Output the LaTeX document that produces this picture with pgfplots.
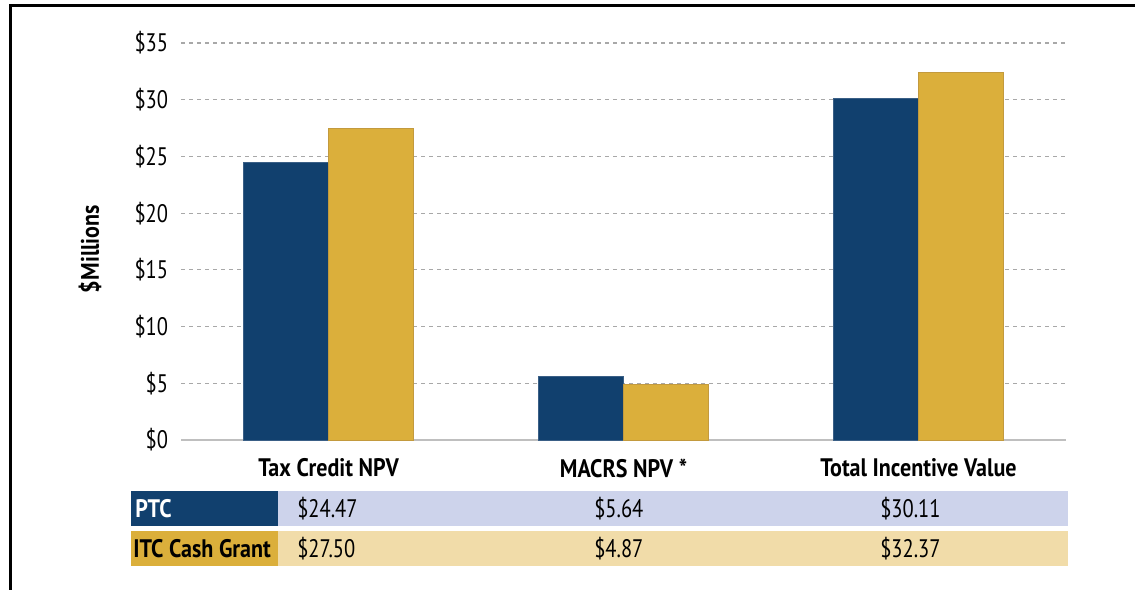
\documentclass[border=0pt]{standalone}
\usepackage{fontspec}
\setmainfont{PT Sans}[FakeStretch=0.81]
\newfontfamily\bfont{PT Sans}[FakeStretch=0.87]
\usepackage{pgfplots}
\pgfplotsset{compat=1.18}
\definecolor{navy}{HTML}{11406E}
\definecolor{navyedge}{HTML}{3A5F86}
\definecolor{gold}{HTML}{DBAF3B}
\definecolor{goldedge}{HTML}{C39A3E}
\definecolor{rowblue}{HTML}{CDD3EB}
\definecolor{rowgold}{HTML}{F1DCA9}
\definecolor{gridgray}{HTML}{A8A8A8}
\newcommand{\fs}{\fontsize{19}{21}\selectfont}
\newcommand{\bfs}{\bfont\bfseries\fontsize{19}{21}\selectfont}
\begin{document}
\begin{tikzpicture}[x=0.75pt,y=0.75pt]
\useasboundingbox (0,0) rectangle (1135,589);
\draw[line width=2.25pt] (10,-10) -- (10,583) -- (1145,583);
\begin{axis}[
  at={(181pt*0.75,149pt*0.75)}, anchor=south west,
  scale only axis, width=663.75pt, height=297.75pt,
  xmin=-0.5, xmax=2.5, ymin=0, ymax=35,
  axis y line*=left, axis x line*=bottom,
  y axis line style={draw=none},
  x axis line style={draw=gray!50, line width=1.5pt, -},
  ybar=0pt, bar width=63.75pt,
  xtick={0,1,2}, xticklabels={Tax Credit NPV, MACRS NPV *, Total Incentive Value},
  xtick style={draw=none}, ytick style={draw=none},
  xticklabel style={font=\bfs, anchor=north, inner sep=0pt, yshift=-9.5pt},
  ytick={5,10,...,35}, extra y ticks={0}, extra y tick style={grid=none},
  extra y tick labels={\$0},
  yticklabels={\$5,\$10,\$15,\$20,\$25,\$30,\$35},
  yticklabel style={font=\fs, anchor=east, inner sep=0pt, xshift=-9.5pt},
  ymajorgrids, major grid style={draw=gridgray, line width=0.8pt, dash pattern=on 3pt off 3pt},
  clip=false,
]
\addplot[fill=navy, draw=navyedge, line width=0.6pt] coordinates {(0,24.47) (1,5.64) (2,30.11)};
\addplot[fill=gold, draw=goldedge, line width=0.6pt] coordinates {(0,27.50) (1,4.87) (2,32.37)};
\end{axis}
\node[rotate=90, font=\bfs] at (90,340) {\$Millions};
% table
\fill[navy] (131,98) rectangle (278,63);
\fill[rowblue] (278,98) rectangle (1068,63);
\fill[gold] (131,58) rectangle (278,23);
\fill[rowgold] (278,58) rectangle (1068,23);
\node[anchor=west, inner sep=0pt, text=white, font=\bfs] at (135,80) {PTC};
\node[anchor=west, inner sep=0pt, font=\bfs] at (133,40) {ITC Cash Grant};
\node[anchor=west, inner sep=0pt, font=\fs] at (297,80) {\$24.47};
\node[anchor=west, inner sep=0pt, font=\fs] at (594,80) {\$5.64};
\node[anchor=west, inner sep=0pt, font=\fs] at (880,80) {\$30.11};
\node[anchor=west, inner sep=0pt, font=\fs] at (297,40) {\$27.50};
\node[anchor=west, inner sep=0pt, font=\fs] at (594,40) {\$4.87};
\node[anchor=west, inner sep=0pt, font=\fs] at (880,40) {\$32.37};
\end{tikzpicture}
\end{document}
